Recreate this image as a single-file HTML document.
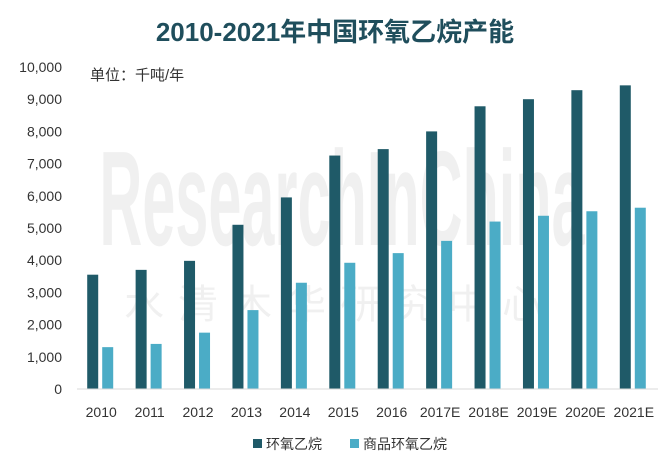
<!DOCTYPE html>
<html><head><meta charset="utf-8"><style>
body{margin:0;background:#fff;}
svg text{font-family:"Liberation Sans","Noto Sans CJK SC",sans-serif;}
</style></head><body>
<svg width="670" height="460" viewBox="0 0 670 460">
<text x="335" y="41" text-anchor="middle" font-size="26" font-weight="bold" fill="#1f4e5c">2010-2021年中国环氧乙烷产能</text>
<text x="90" y="80" font-size="15" fill="#333">单位：千吨/年</text>
<g transform="translate(342,245) scale(0.44,1)"><text x="0" y="0" text-anchor="middle" font-size="135" font-weight="bold" fill="#000" fill-opacity="0.06">ResearchInChina</text></g>
<text x="340" y="318" text-anchor="middle" font-size="40" fill="#000" fill-opacity="0.06" letter-spacing="14">水清木华研究中心</text>
<g id="yaxis"></g><g id="bars"></g><g id="xaxis"></g>
<g>
<rect x="253" y="439" width="9" height="9" fill="#1f5a68"/>
<text x="266" y="449" font-size="14" fill="#333">环氧乙烷</text>
<rect x="350" y="439" width="9" height="9" fill="#4bacc6"/>
<text x="363" y="449" font-size="14" fill="#333">商品环氧乙烷</text>
</g>
</svg>
<script>
const categories=["2010","2011","2012","2013","2014","2015","2016","2017E","2018E","2019E","2020E","2021E"];
const capacity=[3550,3700,3980,5100,5950,7250,7450,8000,8780,9000,9280,9430];
const merchant=[1300,1400,1750,2450,3300,3920,4220,4600,5200,5380,5520,5630];
const yTicks=[0,1000,2000,3000,4000,5000,6000,7000,8000,9000,10000];
const NS="http://www.w3.org/2000/svg";
const x0=77,x1=658,y0=389,yTop=67,yMax=10000;
const bw=(x1-x0)/categories.length;
const y=v=>y0-(v/yMax)*(y0-yTop);
const xc=i=>x0+bw*(i+0.5);
function mk(tag,attrs,parent){const e=document.createElementNS(NS,tag);for(const k in attrs)e.setAttribute(k,attrs[k]);parent.appendChild(e);return e;}
const ya=document.getElementById('yaxis'),bars=document.getElementById('bars'),xa=document.getElementById('xaxis');
yTicks.forEach(t=>{const tx=mk('text',{x:62,y:y(t)+5,'text-anchor':'end','font-size':14,fill:'#333'},ya);tx.textContent=t.toLocaleString('en-US');

});
const ax=mk('line',{x1:x0,x2:x1,y1:y0,y2:y0,stroke:'#d9d9d9','stroke-width':1},xa);


categories.forEach((c,i)=>{
const cx=xc(i);
const r1=mk('rect',{x:cx-14,y:y(capacity[i]),width:11,height:y0-y(capacity[i]),fill:'#1f5a68'},bars);


const r2=mk('rect',{x:cx+1,y:y(merchant[i]),width:11,height:y0-y(merchant[i]),fill:'#4bacc6'},bars);


const t=mk('text',{x:cx,y:417,'text-anchor':'middle','font-size':14,fill:'#333'},xa);t.textContent=c;


});
</script>
</body></html>
